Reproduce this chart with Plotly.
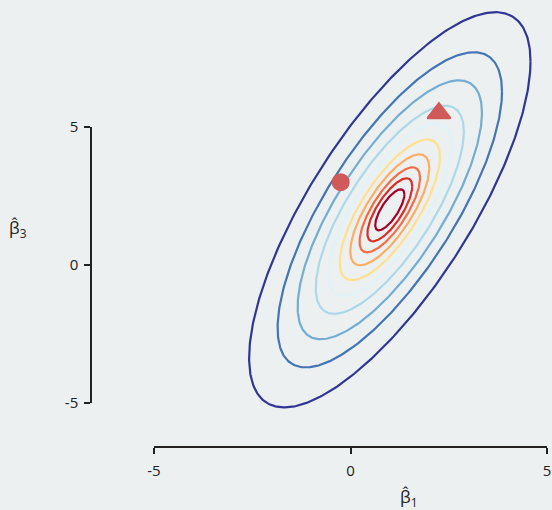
import numpy as np
import plotly.graph_objects as go

# ---- data ----
center = [1.0, 2.0]                       # mean of (beta1, beta3)
cov = [[1.0, 1.5], [1.5, 4.0]]            # covariance shaping the contours
radii = [0.372, 0.571, 0.770, 1.005, 1.275, 1.565, 1.885, 2.345, 2.855, 3.58]  # Mahalanobis radii
colors = ["#a50026", "#d73027", "#f46d43", "#fdae61", "#fee090",
          "#e0f3f8", "#abd9e9", "#74add1", "#4575b4", "#313695"]
circle_pt = [-0.25, 3.0]
triangle_pt = [2.25, 5.5]
tick_vals = [-5, 0, 5]
tick_text = ["-5", "0", "5"]

BG = "#ECF0F1"
FONT = "Open Sans"

fig = go.Figure()

L = np.linalg.cholesky(np.array(cov))
t = np.linspace(0, 2 * np.pi, 400)
unit = np.vstack([np.cos(t), np.sin(t)])
for r, c in zip(radii, colors):
    pts = (L @ unit) * r
    fig.add_trace(go.Scatter(x=pts[0] + center[0], y=pts[1] + center[1], mode="lines",
                             line=dict(color=c, width=2.2), hoverinfo="skip", showlegend=False))

fig.add_trace(go.Scatter(x=[circle_pt[0]], y=[circle_pt[1]], mode="markers",
                         marker=dict(symbol="circle", size=18, color="#d05a5a"),
                         showlegend=False, hoverinfo="skip"))
fig.add_trace(go.Scatter(x=[triangle_pt[0]], y=[triangle_pt[1]], mode="markers",
                         marker=dict(symbol="triangle-up", size=20, color="#d05a5a",
                                     line=dict(color="#d05a5a", width=2)),
                         showlegend=False, hoverinfo="skip"))

# subplot that carries the visible, detached axes
fig.add_trace(go.Scatter(x=[None], y=[None], xaxis="x2", yaxis="y2", mode="markers",
                         showlegend=False, hoverinfo="skip"))

W, H = 552, 510
px_per_x = 39.3
x0_px = 350.5
px_per_y = 27.6
y0_px = 265.0

fig.update_layout(
    width=W, height=H, autosize=False,
    margin=dict(l=0, r=0, t=0, b=0, pad=0, autoexpand=False),
    paper_bgcolor=BG, plot_bgcolor="rgba(0,0,0,0)",
    font=dict(family=FONT, size=14, color="#222222"),
    xaxis=dict(range=[(0 - x0_px) / px_per_x, (W - x0_px) / px_per_x], visible=False,
               domain=[0, 1], automargin=False),
    yaxis=dict(range=[(y0_px - H) / px_per_y, y0_px / px_per_y], visible=False,
               domain=[0, 1], automargin=False),
    xaxis2=dict(domain=[154 / W, 547 / W], range=[-5, 5], anchor="free",
                position=1 - 447 / H, tickvals=tick_vals, ticktext=tick_text,
                ticks="outside", ticklen=6, tickwidth=1.5, tickcolor="#222222",
                showline=True, linecolor="#222222", linewidth=1.5, automargin=False,
                ticklabelstandoff=4,
                showgrid=False, zeroline=False, tickfont=dict(size=15)),
    yaxis2=dict(domain=[1 - 403 / H, 1 - 127 / H], range=[-5, 5], anchor="free",
                position=91 / W, side="left", tickvals=tick_vals, ticktext=tick_text,
                ticks="outside", ticklen=6, tickwidth=1.5, tickcolor="#222222",
                showline=True, linecolor="#222222", linewidth=1.5, automargin=False,
                ticklabelstandoff=3,
                showgrid=False, zeroline=False, tickfont=dict(size=15)),
    annotations=[
        dict(text="β\u0302<sub>1</sub>", x=408 / W, y=1 - 497 / H, xref="paper", yref="paper",
             showarrow=False, font=dict(size=17, family=FONT), xanchor="center", yanchor="middle"),
        dict(text="β\u0302<sub>3</sub>", x=18 / W, y=1 - 229 / H, xref="paper", yref="paper",
             showarrow=False, font=dict(size=17, family=FONT), xanchor="center", yanchor="middle"),
    ],
)

fig.write_html("out.html")
